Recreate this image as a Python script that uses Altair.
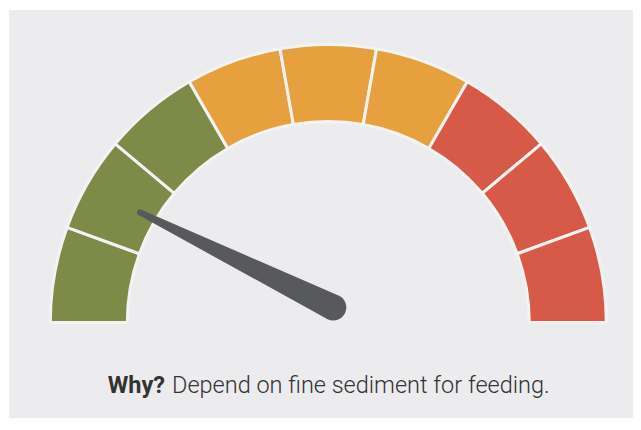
import math
import altair as alt
import pandas as pd

# --- data ---
segment_start = [0, 1, 2, 3, 4, 5, 6, 7, 8]
segment_end = [1, 2, 3, 4, 5, 6, 7, 8, 9]
segment_level = ["Low", "Low", "Low", "Medium", "Medium", "Medium", "High", "High", "High"]
level_names = ["Low", "Medium", "High"]
level_colors = ["#7E8A48", "#E6A13E", "#D65A47"]

needle_value = 1.31          # on the 0..9 gauge scale
needle_part = ["tip", "base"]
needle_width = [6, 26]

caption_bold = ["Why?"]
caption_rest = ["Depend on fine sediment for feeding."]

# --- layout constants (pixels, plot area) ---
W, H = 624, 408
CX, CY = 319.3, 312.5
R_OUT, R_IN = 278, 201

seg_df = pd.DataFrame({"start": segment_start, "end": segment_end, "level": segment_level})

arcs = alt.Chart(seg_df).mark_arc(
    x=CX, y=CY, radius=R_OUT, radius2=R_IN,
    stroke="#F3F3F3", strokeWidth=3
).encode(
    theta=alt.Theta("start:Q", scale=alt.Scale(domain=[0, 9], range=[-math.pi / 2, math.pi / 2])),
    theta2="end:Q",
    color=alt.Color("level:N", scale=alt.Scale(domain=level_names, range=level_colors), legend=None),
)

needle_df = pd.DataFrame({"part": needle_part, "w": needle_width, "order": [0, 1]})
needle = alt.Chart(needle_df).transform_calculate(
    ang="PI * (1 - %f / 9)" % needle_value,
    px="0.018",
    py="0.054",
    len_="0.775",
    x="datum.part == 'tip' ? datum.px + datum.len_ * cos(datum.ang) : datum.px",
    y="datum.part == 'tip' ? datum.py + datum.len_ * sin(datum.ang) : datum.py",
).mark_trail(color="#58595B").encode(
    x=alt.X("x:Q", scale=alt.Scale(domain=[-1, 1], range=[CX - R_OUT, CX + R_OUT]), axis=None),
    y=alt.Y("y:Q", scale=alt.Scale(domain=[-1, 1], range=[CY + R_OUT, CY - R_OUT]), axis=None),
    size=alt.Size("w:Q", scale=None, legend=None),
    order="order:Q",
)

bold_txt = alt.Chart(pd.DataFrame({"t": caption_bold})).mark_text(
    x=156, y=383, align="right", baseline="alphabetic",
    font="Roboto", fontSize=23.5, fontWeight="bold", color="#333333"
).encode(text="t:N")

rest_txt = alt.Chart(pd.DataFrame({"t": caption_rest})).mark_text(
    x=163, y=383, align="left", baseline="alphabetic",
    font="Roboto", fontSize=23.5, fontWeight=300, color="#333333"
).encode(text="t:N")

chart = alt.layer(arcs, needle, bold_txt, rest_txt).properties(
    width=W, height=H,
    autosize=alt.AutoSizeParams(type="none"),
    padding={"left": 1, "top": 2, "right": 0, "bottom": 0},
    background="white",
).configure_view(fill="#ECECEE", stroke=None)

chart.save("out.html", embed_options={"renderer": "svg", "actions": False})
